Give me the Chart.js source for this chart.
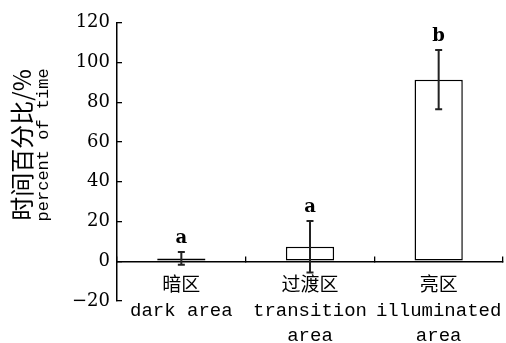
<!DOCTYPE html>
<html>
<head>
<meta charset="utf-8">
<script src="https://cdn.jsdelivr.net/npm/chart.js@4.4.0/dist/chart.umd.min.js"></script>
<style>
html, body { margin: 0; padding: 0; background: #fff; }
</style>
</head>
<body>
<canvas id="myChart" width="506" height="343"></canvas>
<script>
// data
const categories = [['暗区', 'dark area'], ['过渡区', 'transition', 'area'], ['亮区', 'illuminated', 'area']];
const meanValues = [1.4, 7.3, 91.4];
const errorValues = [3.2, 13.0, 14.9];
const groupLetters = ['a', 'a', 'b'];
const yTicks = [-20, 0, 20, 40, 60, 80, 100, 120];
const yTitleZh = '时间百分比/%';
const yTitleEn = 'percent of time';

// error bars + significance letters
const errorBarPlugin = {
    id: 'errorBars',
    afterDatasetsDraw(chart) {
        const ctx = chart.ctx;
        const y = chart.scales.y;
        const meta = chart.getDatasetMeta(0);
        ctx.save();
        ctx.strokeStyle = '#222';
        ctx.lineWidth = 2;
        meta.data.forEach((bar, i) => {
            const top = y.getPixelForValue(meanValues[i] + errorValues[i]);
            const bottom = y.getPixelForValue(meanValues[i] - errorValues[i]);
            ctx.beginPath();
            ctx.moveTo(bar.x, top);
            ctx.lineTo(bar.x, bottom);
            ctx.moveTo(bar.x - 3.5, top);
            ctx.lineTo(bar.x + 3.5, top);
            ctx.moveTo(bar.x - 3.5, bottom);
            ctx.lineTo(bar.x + 3.5, bottom);
            ctx.stroke();

            ctx.fillStyle = '#000';
            ctx.font = 'bold 18px "DejaVu Serif"';
            ctx.textAlign = 'center';
            ctx.textBaseline = 'alphabetic';
            ctx.fillText(groupLetters[i], bar.x, top - 9);
        });
        ctx.restore();
    }
};

// two-line y title, chinese and english in different fonts
const yTitlePlugin = {
    id: 'yTitle',
    afterDraw(chart) {
        const ctx = chart.ctx;
        const area = chart.chartArea;
        const cy = (area.top + area.bottom) / 2 - 17;
        ctx.save();
        ctx.fillStyle = '#000';
        ctx.textAlign = 'center';
        ctx.textBaseline = 'middle';
        ctx.translate(22, cy);
        ctx.rotate(-Math.PI / 2);
        ctx.font = '24px "Noto Sans CJK SC"';
        ctx.fillText(yTitleZh, 0, 0);
        ctx.font = '17px "Liberation Mono"';
        ctx.fillText(yTitleEn, 0, 21);
        ctx.restore();
    }
};

const ctx = document.getElementById('myChart');

const barChart = new Chart(ctx, {
    type: 'bar',
    data: {
        labels: categories,
        datasets: [{
            data: meanValues,
            backgroundColor: '#fff',
            borderColor: '#000',
            borderWidth: 1.5,
            borderSkipped: false,
            barPercentage: 0.375,
            categoryPercentage: 1
        }]
    },
    options: {
        responsive: false,
        animation: false,
        layout: { padding: { top: 21, right: 3, left: 0, bottom: 42 } },
        plugins: {
            legend: { display: false },
            tooltip: { enabled: false }
        },
        scales: {
            x: {
                type: 'category',
                position: { y: 0 },
                offset: true,
                grid: {
                    offset: true,
                    drawOnChartArea: false,
                    drawTicks: true,
                    tickLength: -6,
                    color: '#000',
                    lineWidth: 1.3
                },
                border: { display: true, color: '#000', width: 1.5 },
                ticks: {
                    color: '#000',
                    font: { family: '"Liberation Mono", "Noto Sans CJK SC"', size: 19, lineHeight: 25 / 19 },
                    padding: 18,
                    maxRotation: 0,
                    autoSkip: false
                },
                afterFit: (scale) => {
                    scale.height = 0;
                    scale.paddingLeft = 0;
                    scale.paddingRight = 0;
                }
            },
            y: {
                min: -20,
                max: 120,
                grid: {
                    drawOnChartArea: false,
                    drawTicks: true,
                    tickLength: -5,
                    color: '#000',
                    lineWidth: 1.3
                },
                border: { display: true, color: '#000', width: 1.5 },
                ticks: {
                    color: '#000',
                    font: { family: '"DejaVu Serif"', size: 18 },
                    padding: 12,
                    callback: (v) => v < 0 ? '\u2212' + Math.abs(v) : String(v)
                },
                afterBuildTicks: (scale) => { scale.ticks = yTicks.map(v => ({ value: v })); },
                afterFit: (scale) => { scale.width = 117; }
            }
        }
    },
    plugins: [errorBarPlugin, yTitlePlugin]
});
</script>
</body>
</html>
